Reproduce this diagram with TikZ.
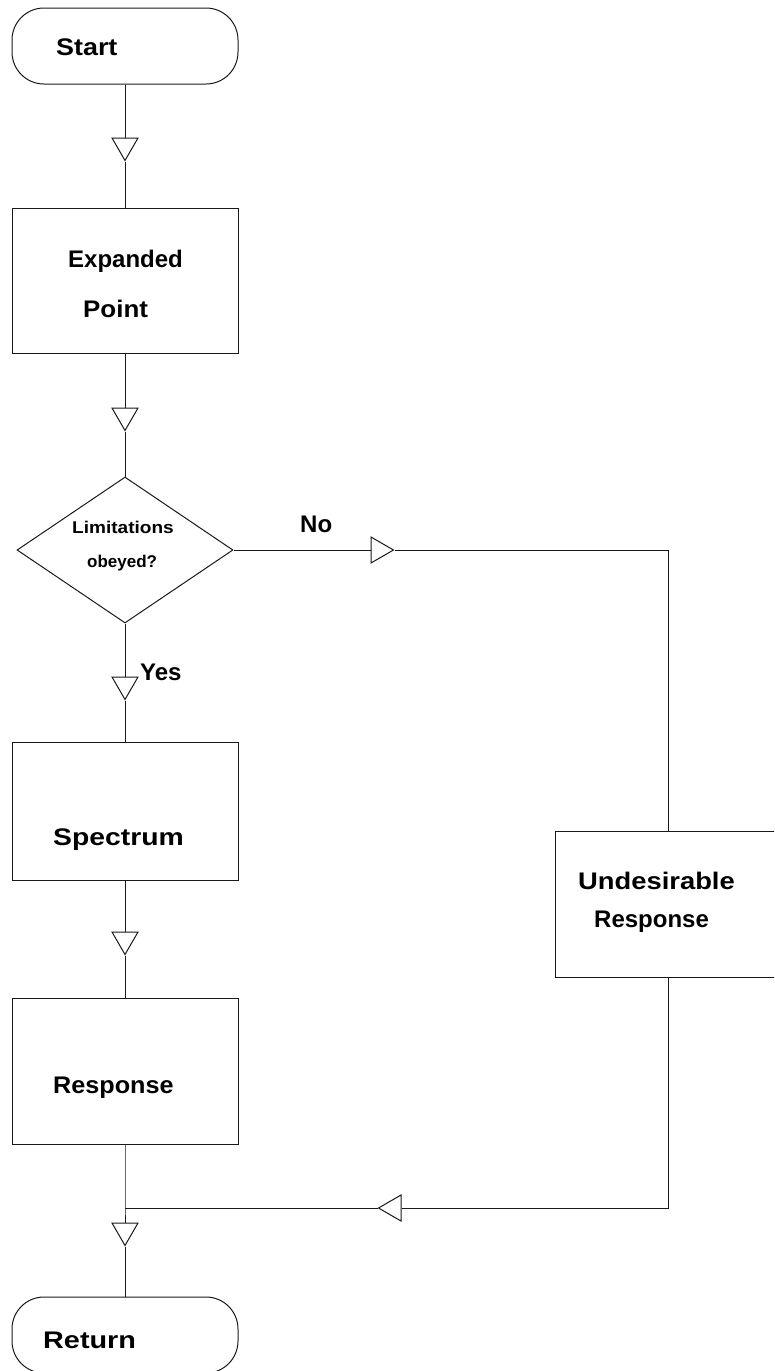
\documentclass[tikz,border=0pt]{standalone}
\usepackage{fontspec}
\usepackage{graphicx}
\setmainfont{Liberation Sans}
\usetikzlibrary{shapes.geometric}
\tikzset{
  ln/.style={line width=1pt, draw=black!90},
  boxnode/.style={draw=black!90, line width=1pt, rectangle, inner sep=0, minimum width=226pt},
  termnode/.style={draw=black!90, line width=1pt, rectangle, rounded corners=32pt, inner sep=0, minimum width=226pt, minimum height=76pt},
  decnode/.style={draw=black!90, line width=1pt, diamond, inner sep=0, minimum width=216pt, minimum height=146pt},
  tri/.style={draw=black!90, line width=1pt, fill=white, regular polygon, regular polygon sides=3, inner sep=0, minimum size=30pt},
  tridown/.style={tri, shape border rotate=180},
  triright/.style={tri, shape border rotate=-90},
  trileft/.style={tri, shape border rotate=90},
  lbl/.style={anchor=base west, inner sep=0, font=\bfseries\fontsize{24}{24}\selectfont},
  smalllbl/.style={anchor=base west, inner sep=0, font=\bfseries\fontsize{17}{17}\selectfont}
}
\begin{document}
\begin{tikzpicture}[x=1pt, y=-1pt]
\useasboundingbox (0,0) rectangle (774,1371);
\clip (0,0) rectangle (774,1371);
% nodes
\node[termnode] (start) at (125,46) {};
\node[tridown] (t1) at (125,145.5) {};
\node[boxnode, minimum height=145pt] (exp) at (125,280.5) {};
\node[tridown] (t2) at (125,415.5) {};
\node[decnode] (dec) at (125,550) {};
\node[triright] (t6) at (378.5,550) {};
\node[tridown] (t3) at (125,684.5) {};
\node[boxnode, minimum height=138pt] (spec) at (125,811) {};
\node[tridown] (t4) at (125,939.5) {};
\node[boxnode, minimum height=146pt] (resp) at (125,1071) {};
\coordinate (j) at (125,1208);
\node[tridown] (t5) at (125,1230.5) {};
\node[termnode] (ret) at (125,1335) {};
\node[boxnode, minimum height=146pt] (und) at (668,904) {};
\coordinate (c1) at (668,550);
\coordinate (c2) at (668,1208);
\node[trileft] (t7) at (393.5,1208) {};
% connectors
\draw[ln] (start) -- (t1) -- (exp);
\draw[ln] (exp) -- (t2) -- (dec);
\draw[ln] (dec.east) -- (t6) -- (c1) -- (und);
\draw[ln] (dec) -- (t3) -- (spec);
\draw[ln] (spec) -- (t4) -- (resp);
\draw[ln] (resp) -- (j) -- (t5) -- (ret);
\draw[ln] (und) -- (c2) -- (t7) -- (j);
% labels
\node[lbl] (lstart) at (56,55) {\scalebox{1.12}[1]{Start}};
\node[lbl] (lexp1) at (68,267) {Expanded};
\node[lbl] (lexp2) at (83,317) {\scalebox{1.08}[1]{Point}};
\node[smalllbl] (ldec1) at (72,533) {\scalebox{1.12}[1]{Limitations}};
\node[smalllbl] (ldec2) at (87,567) {obeyed?};
\node[lbl] (lno) at (300,532) {No};
\node[lbl] (lyes) at (140,680) {Yes};
\node[lbl] (lspec) at (53,845) {\scalebox{1.18}[1]{Spectrum}};
\node[lbl] (lresp) at (53,1093) {\scalebox{1.05}[1]{Response}};
\node[lbl] (lund1) at (578,889) {\scalebox{1.14}[1]{Undesirable}};
\node[lbl] (lund2) at (594,927) {Response};
\node[lbl] (lret) at (43,1348) {\scalebox{1.2}[1]{Return}};
\end{tikzpicture}
\end{document}
